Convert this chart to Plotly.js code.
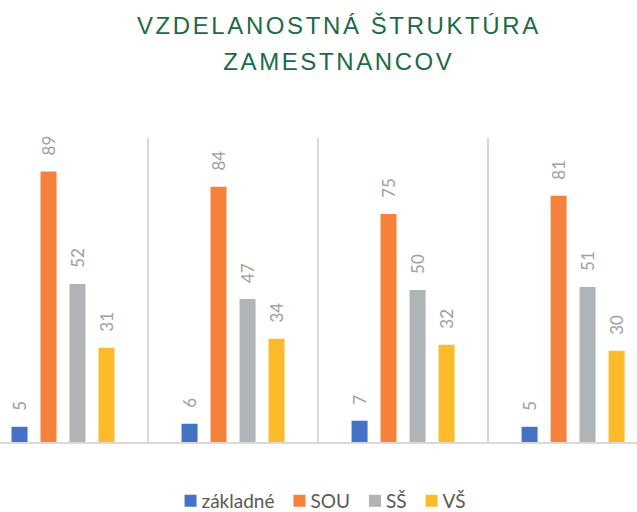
<!DOCTYPE html>
<html>
<head>
<meta charset="utf-8">
<script src="https://cdn.plot.ly/plotly-3.0.1.min.js"></script>
<style>
html,body{margin:0;padding:0;background:#fff;}
#chart{width:637px;height:512px;}
#chart .gtitle{letter-spacing:2.6px;}
</style>
</head>
<body>
<div id="chart"></div>
<script>
var groups = [0, 1, 2, 3];
var seriesNames = ['základné', 'SOU', 'SŠ', 'VŠ'];
var zakladne = [5, 6, 7, 5];
var sou = [89, 84, 75, 81];
var ss = [52, 47, 50, 51];
var vs = [31, 34, 32, 30];
var seriesValues = [zakladne, sou, ss, vs];
var colors = ['#4472C4', '#F5813B', '#B1B4B6', '#FDBA2A'];

var traces = seriesValues.map(function (vals, i) {
  return {
    type: 'bar',
    name: seriesNames[i],
    x: groups,
    y: vals,
    marker: {color: colors[i]},
    texttemplate: '\u00A0\u00A0\u00A0%{y}',
    textposition: 'outside',
    textangle: -90,
    constraintext: 'none',
    cliponaxis: false,
    textfont: {family: 'Lato, "Open Sans", sans-serif', size: 17, color: '#A0A0A0'},
    hoverinfo: 'none'
  };
});

var layout = {
  width: 637,
  height: 512,
  margin: {l: 0, r: 0, t: 138, b: 70, autoexpand: false},
  paper_bgcolor: '#ffffff',
  plot_bgcolor: '#ffffff',
  barmode: 'group',
  bargap: 0.318,
  bargroupgap: 0.448,
  title: {
    text: 'VZDELANOSTNÁ ŠTRUKTÚRA<br>ZAMESTNANCOV',
    font: {family: '"Liberation Sans", Arial, sans-serif', size: 24, color: '#1B6B45'},
    x: 0.532, xanchor: 'center',
    yref: 'container',
    y: 0.933, yanchor: 'middle'
  },
  xaxis: {
    range: [-0.3706, 3.376],
    tickvals: [0.5, 1.5, 2.5],
    showticklabels: false,
    showgrid: true,
    gridcolor: '#D9D9D9',
    gridwidth: 1.5,
    zeroline: false,
    showline: true,
    linecolor: '#D9D9D9',
    linewidth: 1.5,
    ticks: ''
  },
  yaxis: {
    range: [0, 100],
    showgrid: false,
    zeroline: false,
    showticklabels: false,
    showline: false
  },
  showlegend: true,
  legend: {
    orientation: 'h',
    x: 0.5, xanchor: 'center',
    y: -0.194, yanchor: 'middle',
    font: {family: 'Lato, "Open Sans", sans-serif', size: 19, color: '#595959'},
    itemclick: false
  }
};

Plotly.newPlot('chart', traces, layout, {staticPlot: true, displayModeBar: false}).then(function (gd) {
  var lines = gd.querySelectorAll('.gtitle tspan.line');
  if (lines.length > 1) {
    lines[1].setAttribute('dy', '1.5em');
  }
  // tighten legend spacing (symbol-to-text and item gaps)
  var items = gd.querySelectorAll('.legend .traces');
  if (!items.length) return;
  var pos = [], ys = [], x = 0, lastEnd = 0;
  items.forEach(function (it) {
    var t = it.querySelector('text.legendtext');
    t.setAttribute('x', 31);
    var w = t.getComputedTextLength();
    var m = /translate\(\s*([-\d.]+)[ ,]+([-\d.]+)/.exec(it.getAttribute('transform') || '');
    ys.push(m ? parseFloat(m[2]) : 0);
    pos.push(x);
    lastEnd = x + 31 + w;
    x = lastEnd + 19 - 14;
  });
  var pe = items[0].parentNode.getScreenCTM().e;
  var shift = 325 - (14 + lastEnd) / 2 - pe;
  items.forEach(function (it, i) {
    it.setAttribute('transform', 'translate(' + (pos[i] + shift) + ',' + ys[i] + ')');
  });
});
</script>
</body>
</html>
